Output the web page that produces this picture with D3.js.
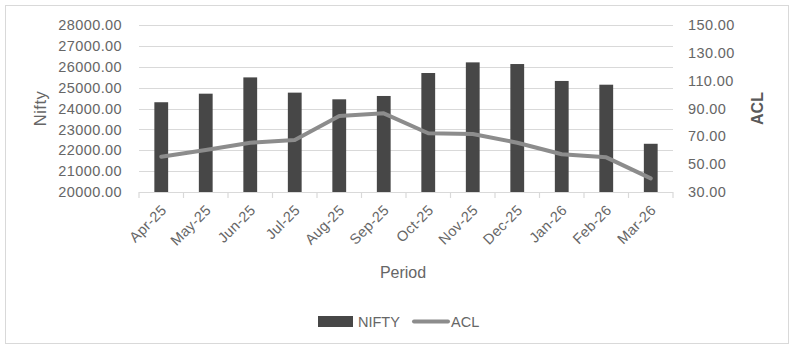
<!DOCTYPE html>
<html>
<head>
<meta charset="utf-8">
<script src="https://cdn.jsdelivr.net/npm/d3@7"></script>
<style>
    body { margin: 0; background: #fff; }
    text { font-family: "Liberation Sans", Arial, sans-serif; }
</style>
</head>
<body>
<svg id="chart"></svg>
<script>
const periods = ['Apr-25', 'May-25', 'Jun-25', 'Jul-25', 'Aug-25', 'Sep-25',
                 'Oct-25', 'Nov-25', 'Dec-25', 'Jan-26', 'Feb-26', 'Mar-26'];
const nifty = [24300, 24710, 25490, 24760, 24440, 24600,
               25700, 26210, 26130, 25320, 25140, 22310];
const acl = [55.4, 60.2, 65.4, 67.4, 84.6, 86.5,
             72.2, 71.7, 65.4, 57.1, 54.9, 39.8];
const niftyTicks = [20000, 21000, 22000, 23000, 24000, 25000, 26000, 27000, 28000];
const aclTicks = [30, 50, 70, 90, 110, 130, 150];

class ComboChart {

    constructor(config) {
        this.config = {
            parent: config.parent,
            width: config.width || 792,
            height: config.height || 346,
            margin: config.margin || { top: 25, right: 119, bottom: 154, left: 139 }
        }
        this.init();
    }

    init() {
        let self = this;
        let margin = self.config.margin;

        self.svg = d3.select(self.config.parent)
            .attr('width', self.config.width)
            .attr('height', self.config.height);

        // outer frame
        self.svg.append('rect')
            .attr('x', 5.5).attr('y', 5.5)
            .attr('width', 783).attr('height', 338)
            .attr('fill', '#fff')
            .attr('stroke', '#d9d9d9');

        self.inner_width = self.config.width - margin.left - margin.right;
        self.inner_height = self.config.height - margin.top - margin.bottom;

        self.chart = self.svg.append('g')
            .attr('transform', `translate(${margin.left}, ${margin.top})`);

        self.xscale = d3.scaleBand()
            .domain(periods)
            .range([0, self.inner_width])
            .paddingInner(0.69)
            .paddingOuter(0.345);

        self.yscale = d3.scaleLinear()
            .domain([20000, 28000])
            .range([self.inner_height, 0]);

        self.y2scale = d3.scaleLinear()
            .domain([30, 150])
            .range([self.inner_height, 0]);
    }

    render() {
        let self = this;
        const w = self.inner_width, h = self.inner_height;
        const label_color = '#666666';

        // gridlines
        self.chart.append('g')
            .selectAll('line')
            .data(niftyTicks.slice(1))
            .join('line')
            .attr('x1', 0).attr('x2', w)
            .attr('y1', d => Math.round(self.yscale(d)) + 0.5)
            .attr('y2', d => Math.round(self.yscale(d)) + 0.5)
            .attr('stroke', '#d9d9d9')
            .attr('stroke-width', 1.2);

        // left axis labels
        const yaxis = d3.axisLeft(self.yscale)
            .tickValues(niftyTicks)
            .tickFormat(d3.format('.2f'))
            .tickSize(0)
            .tickPadding(17);
        self.chart.append('g').call(yaxis)
            .call(g => g.select('.domain').remove())
            .selectAll('text')
            .attr('fill', label_color)
            .style('font-size', '14.5px')
            .style('letter-spacing', '0.4px');

        // right axis labels
        const y2axis = d3.axisRight(self.y2scale)
            .tickValues(aclTicks)
            .tickFormat(d3.format('.2f'))
            .tickSize(0)
            .tickPadding(15);
        self.chart.append('g')
            .attr('transform', `translate(${w}, 0)`)
            .call(y2axis)
            .call(g => g.select('.domain').remove())
            .selectAll('text')
            .attr('fill', label_color)
            .style('font-size', '14.5px')
            .style('letter-spacing', '0.4px');

        // bars
        self.chart.selectAll('rect.bar')
            .data(nifty)
            .join('rect')
            .attr('class', 'bar')
            .attr('x', (d, i) => self.xscale(periods[i]))
            .attr('width', self.xscale.bandwidth())
            .attr('y', d => self.yscale(d))
            .attr('height', d => h - self.yscale(d))
            .attr('fill', '#474747');

        // x axis with category boundary ticks
        const step = self.xscale.step();
        const xg = self.chart.append('g')
            .attr('transform', `translate(0, ${h})`);
        xg.append('line')
            .attr('x1', 0).attr('x2', w)
            .attr('y1', 0.5).attr('y2', 0.5)
            .attr('stroke', '#d9d9d9')
            .attr('stroke-width', 1.2);
        xg.selectAll('line.tick')
            .data(d3.range(periods.length + 1))
            .join('line')
            .attr('class', 'tick')
            .attr('x1', i => i * step).attr('x2', i => i * step)
            .attr('y1', 0).attr('y2', 6)
            .attr('stroke', '#d9d9d9')
            .attr('stroke-width', 1.2);
        xg.selectAll('text')
            .data(periods)
            .join('text')
            .attr('transform', d => `translate(${self.xscale(d) + self.xscale.bandwidth() / 2}, 13) rotate(-45)`)
            .attr('text-anchor', 'end')
            .attr('dy', '0.6em')
            .attr('fill', label_color)
            .style('font-size', '14.5px')
            .style('letter-spacing', '0.3px')
            .text(d => d);

        // ACL line
        const line = d3.line()
            .x((d, i) => self.xscale(periods[i]) + self.xscale.bandwidth() / 2)
            .y(d => self.y2scale(d));
        self.chart.append('path')
            .datum(acl)
            .attr('d', line)
            .attr('fill', 'none')
            .attr('stroke', '#8c8c8c')
            .attr('stroke-width', 4)
            .attr('stroke-linejoin', 'round')
            .attr('stroke-linecap', 'round');

        // axis titles
        self.svg.append('text')
            .attr('transform', `translate(46, ${25 + h / 2}) rotate(-90)`)
            .attr('text-anchor', 'middle')
            .attr('fill', label_color)
            .style('font-size', '16.5px')
            .style('letter-spacing', '0.5px')
            .text('Nifty');

        self.svg.append('text')
            .attr('transform', `translate(763, ${25 + h / 2}) rotate(-90)`)
            .attr('text-anchor', 'middle')
            .attr('fill', '#595959')
            .style('font-size', '16px')
            .style('font-weight', 'bold')
            .text('ACL');

        self.svg.append('text')
            .attr('x', 403)
            .attr('y', 278)
            .attr('text-anchor', 'middle')
            .attr('fill', label_color)
            .style('font-size', '16px')
            .text('Period');

        // legend
        const legend = self.svg.append('g');
        legend.append('rect')
            .attr('x', 318).attr('y', 316)
            .attr('width', 35).attr('height', 11)
            .attr('fill', '#474747');
        legend.append('text')
            .attr('x', 358).attr('y', 327)
            .attr('fill', label_color)
            .style('font-size', '14.5px')
            .text('NIFTY');
        legend.append('line')
            .attr('x1', 414).attr('x2', 448)
            .attr('y1', 321.5).attr('y2', 321.5)
            .attr('stroke', '#8c8c8c')
            .attr('stroke-width', 4)
            .attr('stroke-linecap', 'round');
        legend.append('text')
            .attr('x', 451).attr('y', 327)
            .attr('fill', label_color)
            .style('font-size', '14.5px')
            .text('ACL');
    }
}

let chart = new ComboChart({ parent: '#chart' });
chart.render();
</script>
</body>
</html>
